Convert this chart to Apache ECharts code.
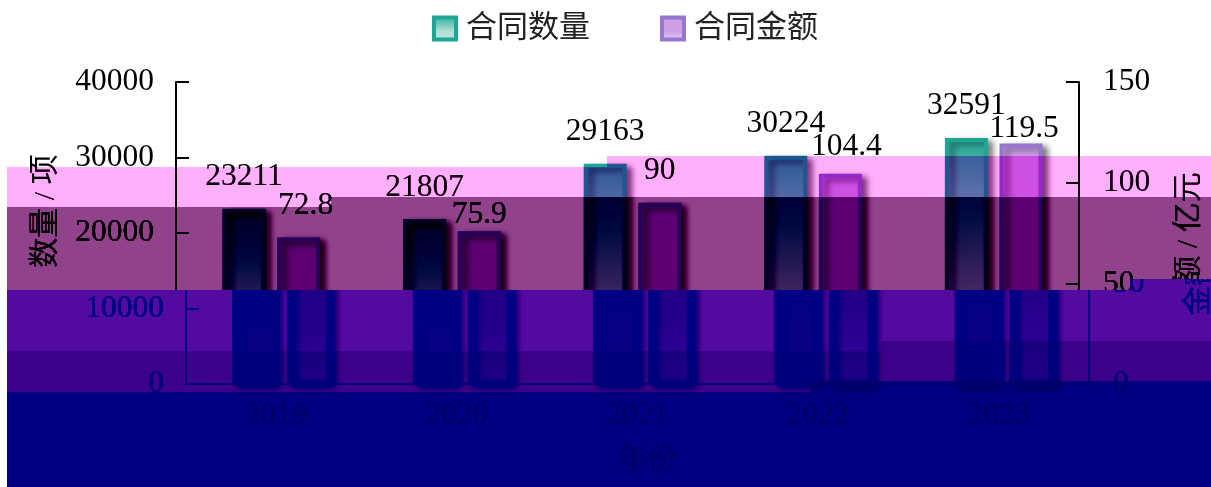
<!DOCTYPE html>
<html>
<head>
<meta charset="utf-8">
<style>html,body{margin:0;padding:0;background:#fff}#chart{width:1211px;height:487px}</style>
<script src="https://cdn.jsdelivr.net/npm/echarts@6/dist/echarts.min.js"></script>
</head>
<body>
<div id="chart"></div>
<script>
// 数据
var years = ['2019', '2020', '2021', '2022', '2023'];
var contractCount = [23211, 21807, 29163, 30224, 32591];
var contractAmount = [72.8, 75.9, 90, 104.4, 119.5];
var countTicks = [0, 40000, 10000];
var amountTicks = [0, 150, 50];

// 金额标签的微调（x, y）
var amountLabelOffset = [[7, 0], [0, 15], [0, 0], [6, 5], [3, 17]];

var FONT = '"Liberation Serif","Noto Sans CJK SC",serif';
var SIZE = 31.5;

var chart = echarts.init(document.getElementById('chart'));

function barFill(top, mid, bottom) {
    return new echarts.graphic.LinearGradient(0, 0, 0, 1, [
        {offset: 0, color: top},
        {offset: 0.6, color: mid},
        {offset: 1, color: bottom}
    ]);
}

var barShadow = {shadowBlur: 6, shadowOffsetX: 5, shadowOffsetY: 3, shadowColor: 'rgba(0,0,0,0.45)'};

chart.setOption({
    animation: false,
    backgroundColor: '#fff',
    textStyle: {fontFamily: FONT, color: '#000'},
    legend: {
        left: 427,
        top: 8,
        icon: 'rect',
        itemWidth: 22,
        itemHeight: 22,
        itemGap: 70,
        itemStyle: {borderWidth: 4},
        textStyle: {fontFamily: FONT, fontSize: 31, color: '#222', padding: [0, 0, 0, 5]},
        data: ['合同数量', '合同金额']
    },
    grid: {left: 181, right: 127, top: 82, bottom: 103, outerBoundsMode: 'none'},
    xAxis: {
        type: 'category',
        data: years,
        name: '年份',
        nameLocation: 'middle',
        nameGap: 62,
        nameTextStyle: {fontFamily: FONT, fontSize: 30, color: '#000', padding: [0, 0, 0, 10]},
        axisLine: {lineStyle: {color: '#000', width: 1.5}},
        axisTick: {inside: true, length: 8, lineStyle: {color: '#000'}},
        axisLabel: {fontFamily: FONT, fontSize: SIZE, color: '#000', margin: 16, padding: [0, 10, 0, 0]}
    },
    yAxis: [{
        type: 'value',
        min: countTicks[0],
        max: countTicks[1],
        interval: countTicks[2],
        offset: 5,
        name: '数量 / 项',
        nameLocation: 'middle',
        nameGap: 115,
        nameTextStyle: {fontFamily: FONT, fontSize: 30, color: '#000', padding: [0, 0, 0, 44]},
        splitLine: {show: false},
        axisLine: {show: true, lineStyle: {color: '#000', width: 2}},
        axisTick: {show: true, inside: true, length: 13, lineStyle: {color: '#000', width: 2}},
        axisLabel: {
            fontFamily: FONT, fontSize: SIZE, color: '#000', margin: 22, padding: [4, 0, 0, 0],
            formatter: function (v) { return String(v); }
        }
    }, {
        type: 'value',
        position: 'right',
        min: amountTicks[0],
        max: amountTicks[1],
        interval: amountTicks[2],
        offset: -5,
        name: '金额 / 亿元',
        nameLocation: 'middle',
        nameRotate: 90,
        nameGap: 95,
        nameTextStyle: {fontFamily: FONT, fontSize: 30, color: '#000', padding: [0, 22, 0, 0]},
        splitLine: {show: false},
        axisLine: {show: true, lineStyle: {color: '#000', width: 2}},
        axisTick: {show: true, inside: true, length: 13, lineStyle: {color: '#000', width: 2}},
        axisLabel: {fontFamily: FONT, fontSize: SIZE, color: '#000', margin: 24, padding: [4, 0, 0, 0]}
    }],
    series: [{
        name: '合同数量',
        type: 'bar',
        barWidth: 43,
        barGap: '27%',
        data: contractCount,
        itemStyle: Object.assign({
            color: barFill('#2AA899', '#AFE1D5', '#BEE8E1'),
            borderColor: '#1FA594',
            borderWidth: 4
        }, barShadow),
        label: {show: true, position: 'top', distance: 16, fontFamily: FONT, fontSize: SIZE, color: '#000'}
    }, {
        name: '合同金额',
        type: 'bar',
        yAxisIndex: 1,
        barWidth: 43,
        data: contractAmount.map(function (v, i) {
            return {value: v, label: {offset: amountLabelOffset[i]}};
        }),
        itemStyle: Object.assign({
            color: barFill('#CC9FE8', '#CFA0E6', '#E4D2FF'),
            borderColor: '#9477CE',
            borderWidth: 4
        }, barShadow),
        label: {show: true, position: 'top', distance: 16, fontFamily: FONT, fontSize: SIZE, color: '#000'}
    }]
});

// 原图下半部分错位、分色的色带：每段 [上沿(左), 转折x, 上沿(右), 颜色, 暗部下限]
var bands = [
    [167, 607, 156, '#FFB0FA', '#000000'],
    [207, 331, 197, '#90438A', '#000000'],
    [290, 1130, 279, '#520AA0', '#000084'],
    [351, 881, 341, '#3D0088', '#00007C'],
    [392, 810, 381, '#000080', '#00006C']
];

function paintBands() {
    var canvas = chart.getDom().querySelector('canvas');
    var ctx = canvas.getContext('2d');
    var W = 1211, H = 487, LEFT = 7;

    // 290 以下整体右移 10px
    ctx.drawImage(canvas, 1120, 279, 81, 11, 1130, 279, 81, 11);
    ctx.drawImage(canvas, 0, 290, 1201, 197, 10, 290, 1201, 197);
    ctx.fillStyle = '#fff';
    ctx.fillRect(0, 290, LEFT + 3, 197);

    function eachRect(fn) {
        bands.forEach(function (b, i) {
            var next = bands[i + 1] || [H, W, H];
            var xs = [LEFT, b[1], next[1], W].sort(function (p, q) { return p - q; });
            for (var k = 0; k < 3; k++) {
                var mid = (xs[k] + xs[k + 1]) / 2;
                var y0 = mid < b[1] ? b[0] : b[2];
                var y1 = mid < next[1] ? next[0] : next[2];
                if (xs[k + 1] > xs[k] && y1 > y0) fn(xs[k], y0, xs[k + 1] - xs[k], y1 - y0, b[3], b[4]);
            }
        });
    }

    // 线性加深：先反相，加上色带的反色，再反相，最后抬高暗部
    ctx.save();
    eachRect(function (x, y, w, h, color, floor) {
        ctx.globalCompositeOperation = 'difference';
        ctx.fillStyle = '#fff';
        ctx.fillRect(x, y, w, h);
        ctx.globalCompositeOperation = 'lighter';
        var n = parseInt(color.slice(1), 16) ^ 0xffffff;
        ctx.fillStyle = '#' + ('000000' + n.toString(16)).slice(-6);
        ctx.fillRect(x, y, w, h);
        ctx.globalCompositeOperation = 'difference';
        ctx.fillStyle = '#fff';
        ctx.fillRect(x, y, w, h);
        ctx.globalCompositeOperation = 'lighten';
        ctx.fillStyle = floor;
        ctx.fillRect(x, y, w, h);
    });
    ctx.restore();
}

setTimeout(paintBands, 60);
</script>
</body>
</html>
